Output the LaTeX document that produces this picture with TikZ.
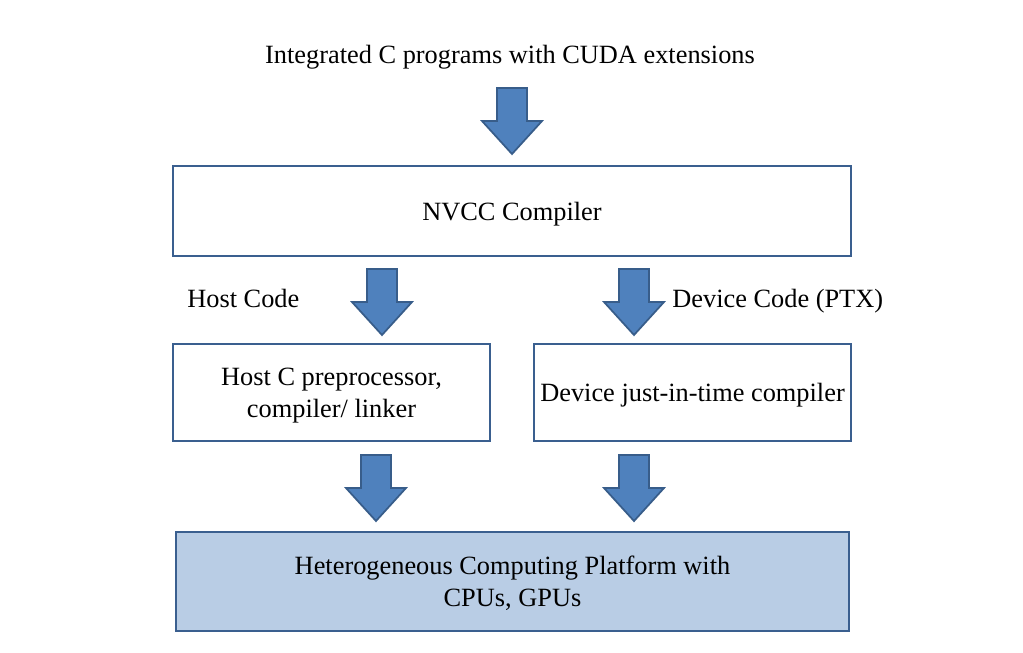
\documentclass[tikz,border=0pt]{standalone}
\usepackage{fontspec}
\setmainfont{Liberation Serif}
\usepackage{xcolor}
\usepackage{tikz}

\definecolor{boxline}{HTML}{3A5F8F}
\definecolor{arrowblue}{HTML}{4F81BD}
\definecolor{arrowline}{HTML}{385D8A}
\definecolor{platform}{HTML}{B9CDE5}

\tikzset{
  stagebox/.style={draw=boxline, line width=1.4pt, inner sep=0pt, align=center,
    text depth=0pt, font=\fontsize{15}{18}\selectfont},
  plain/.style={inner sep=0pt, font=\fontsize{15}{18}\selectfont},
  arrowbody/.style={fill=arrowblue, draw=arrowline, line width=1pt, line join=miter}
}
% block arrow pointing down, top centre at #1
\newcommand{\blockarrow}[1]{%
  \filldraw[arrowbody] (#1) ++(-15,0) -- ++(30,0) -- ++(0,33) -- ++(15,0)
    -- ++(-30,33) -- ++(-30,-33) -- ++(15,0) -- cycle;}

\begin{document}
\begin{tikzpicture}[x=0.02cm, y=-0.02cm]
		\useasboundingbox (0,0) rectangle (1023,652);
		% input text
		\node[plain, anchor=base] (input) at (510,64) {Integrated C programs with CUDA extensions};
		\blockarrow{512,88}
		% compiler
		\node[stagebox, minimum width=678*0.02cm, minimum height=90*0.02cm] (nvcc) at (512,211) {NVCC Compiler};
		\blockarrow{382,269}
		\blockarrow{634,269}
		\node[plain, anchor=base west] (hostlbl) at (187,307) {Host Code};
		\node[plain, anchor=base west] (devlbl) at (672,307) {Device Code (PTX)};
		% host and device side
		\node[stagebox, minimum width=317*0.02cm, minimum height=97*0.02cm] (host) at (331.5,392.5) {Host C preprocessor,\\compiler/ linker};
		\node[stagebox, minimum width=317*0.02cm, minimum height=97*0.02cm] (device) at (692.5,392.5) {Device just-in-time compiler};
		\blockarrow{376,455}
		\blockarrow{634,455}
		% platform
		\node[stagebox, fill=platform, minimum width=673*0.02cm, minimum height=99*0.02cm] (platform) at (512.5,581.5) {Heterogeneous Computing Platform with\\CPUs, GPUs};
\end{tikzpicture}
\end{document}
